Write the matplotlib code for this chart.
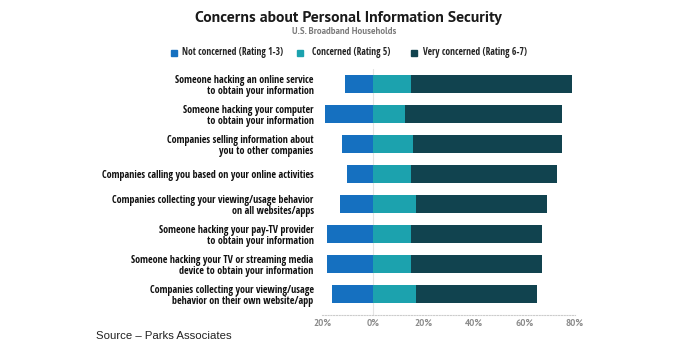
import matplotlib
matplotlib.use("Agg")
import matplotlib.pyplot as plt
from matplotlib.patches import Rectangle

categories = [
    "Someone hacking an online service\nto obtain your information",
    "Someone hacking your computer\nto obtain your information",
    "Companies selling information about\nyou to other companies",
    "Companies calling you based on your online activities",
    "Companies collecting your viewing/usage behavior\non all websites/apps",
    "Someone hacking your pay-TV provider\nto obtain your information",
    "Someone hacking your TV or streaming media\ndevice to obtain your information",
    "Companies collecting your viewing/usage\nbehavior on their own website/app",
]
not_concerned = [11, 19, 12, 10, 13, 18, 18, 16]
concerned = [15, 13, 16, 15, 17, 15, 15, 17]
very_concerned = [64, 62, 59, 58, 52, 52, 52, 48]
series_names = ["Not concerned (Rating 1-3)", "Concerned (Rating 5)", "Very concerned (Rating 6-7)"]
tick_values = [-20, 0, 20, 40, 60, 80]
tick_labels = ["20%", "0%", "20%", "40%", "60%", "80%"]

colors = ["#1570c0", "#1ca2ae", "#11434f"]
NARROW = "Open Sans Condensed"
TITLE_FONT = "PT Sans"

W, H = 690, 350
fig = plt.figure(figsize=(W / 100, H / 100), dpi=100)
fig.patch.set_facecolor("white")
renderer = fig.canvas.get_renderer()


def fit_size(text, target_w, **kw):
    t = fig.text(0, 0, text, fontsize=10, **kw)
    w = t.get_window_extent(renderer).width
    t.remove()
    return 10 * target_w / w


ax_left, ax_right = 322 / W, 575 / W
ax_top, ax_bottom = 1 - 69 / H, 1 - 315 / H
ax = fig.add_axes([ax_left, ax_bottom, ax_right - ax_left, ax_top - ax_bottom])

y = list(range(len(categories)))
neg = [-v for v in not_concerned]
ax.barh(y, neg, height=0.6, color=colors[0], label=series_names[0])
ax.barh(y, concerned, height=0.6, color=colors[1], label=series_names[1])
ax.barh(y, very_concerned, left=concerned, height=0.6, color=colors[2], label=series_names[2])

ax.set_xlim(-20, 80)
ax.set_ylim(7.7, -0.5)
ax.axvline(0, color="#e4e4e4", lw=0.8, zorder=0)
for s in ["top", "right", "left"]:
    ax.spines[s].set_visible(False)
ax.spines["bottom"].set_color("#cccccc")
ax.spines["bottom"].set_linestyle((0, (1, 1.5)))
ax.spines["bottom"].set_linewidth(0.8)
ax.set_xticks(tick_values)
tick_fs = fit_size("40%", 18, family=TITLE_FONT, fontweight="bold")
ax.set_xticklabels(tick_labels, fontsize=tick_fs, color="#8a8a8a", family=TITLE_FONT, fontweight="bold")
ax.tick_params(axis="x", length=0, pad=2.5)
ax.set_yticks(y)
lab_fs = fit_size("Companies collecting your viewing/usage behavior", 203, family=NARROW, fontweight="bold")
ax.set_yticklabels(categories, fontsize=lab_fs, fontweight="bold", family=NARROW, linespacing=1.12,
                   color="#111111")
ax.tick_params(axis="y", length=0, pad=6)

title = "Concerns about Personal Information Security"
fig.text(348.5 / W, 1 - 18 / H, title, ha="center", va="center",
         fontsize=fit_size(title, 307, family=TITLE_FONT, fontweight="bold"),
         fontweight="bold", family=TITLE_FONT, color="#1a1a1a")
sub = "U.S. Broadband Households"
fig.text(344.5 / W, 1 - 32 / H, sub, ha="center", va="center",
         fontsize=fit_size(sub, 105, family=TITLE_FONT, fontweight="bold"),
         fontweight="bold", family=TITLE_FONT, color="#7a7a7a")

# legend
leg_sq = [170.7, 296.7, 411.0]
leg_tx = [181.7, 311.7, 422.7]
leg_fs = fit_size(series_names[0], 101, family=NARROW, fontweight="bold")
for xs, xt, name, c in zip(leg_sq, leg_tx, series_names, colors):
    fig.patches.append(Rectangle((xs / W, 1 - 56 / H), 6 / W, 6 / H, transform=fig.transFigure,
                                 color=c, figure=fig))
    fig.text(xt / W, 1 - 53 / H, name, ha="left", va="center", fontsize=leg_fs,
             fontweight="bold", family=NARROW, color="#222222")

src = "Source \u2013 Parks Associates"
fig.text(96 / W, 1 - 336 / H, src, ha="left", va="center",
         fontsize=fit_size(src, 136, family="Liberation Sans"), family="Liberation Sans", color="#222222")

fig.savefig("out.png", dpi=100, facecolor="white")
